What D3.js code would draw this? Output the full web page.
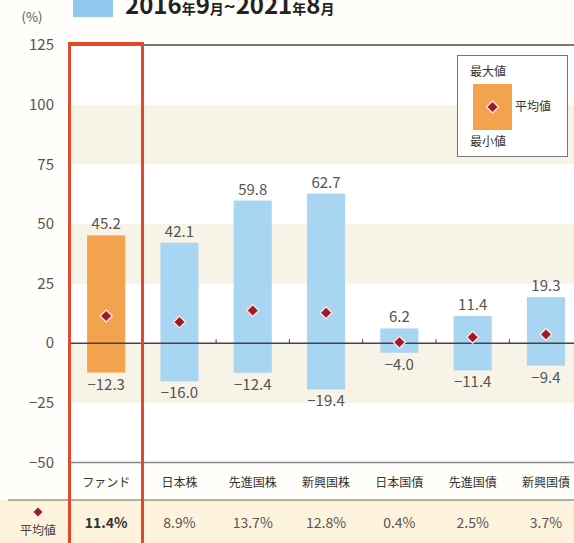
<!DOCTYPE html>
<html>
<head>
<meta charset="utf-8">
<script src="https://cdn.jsdelivr.net/npm/d3@7"></script>
<style>
  body { margin: 0; background: #fffefa; }
  svg { display: block; font-family: "Noto Sans CJK JP", "Noto Sans", sans-serif; }
</style>
</head>
<body>
<div class="chart"></div>
<script>
// data
const categories = ['ファンド', '日本株', '先進国株', '新興国株', '日本国債', '先進国債', '新興国債'];
const maxValues = [45.2, 42.1, 59.8, 62.7, 6.2, 11.4, 19.3];
const minValues = [-12.3, -16.0, -12.4, -19.4, -4.0, -11.4, -9.4];
const avgValues = [11.4, 8.9, 13.7, 12.8, 0.4, 2.5, 3.7];
const yTicks = [125, 100, 75, 50, 25, 0, -25, -50];

const data = categories.map((c, i) => ({
    name: c, max: maxValues[i], min: minValues[i], avg: avgValues[i]
}));

const fmtNum = v => (v < 0 ? '\u2212' + Math.abs(v).toFixed(1) : v.toFixed(1));

const width = 574, height = 543;
const svg = d3.select('.chart').append('svg')
    .attr('width', width).attr('height', height);

// scales
const xScale = d3.scaleBand().domain(categories)
    .range([69.5, 582.6]).paddingInner(0.48).paddingOuter(0.24);
const yScale = d3.scaleLinear([-50, 125], [462.5, 45]);

// background bands
const bands = d3.range(-50, 125, 25);
svg.append('g').selectAll('rect').data(bands).join('rect')
    .attr('x', 69).attr('width', width - 69)
    .attr('y', d => yScale(d + 25))
    .attr('height', d => yScale(d) - yScale(d + 25))
    .style('fill', d => ((d / 25) % 2 === 0 ? '#ffffff' : '#f7f3e6'));

// bottom row background
svg.append('rect').attr('x', 0).attr('y', 500).attr('width', width).attr('height', 43)
    .style('fill', '#fdf3dc');

// y axis labels
svg.append('g').selectAll('text').data(yTicks).join('text')
    .attr('x', 54).attr('y', d => yScale(d)).attr('dy', '0.35em')
    .attr('text-anchor', 'end').style('font-size', '15px').style('fill', '#555')
    .text(d => (d < 0 ? '\u2212' + Math.abs(d) : d));

svg.append('text').attr('x', 32).attr('y', 22).attr('text-anchor', 'middle')
    .style('font-size', '13px').style('fill', '#555').text('(%)');

// axis lines
svg.append('line').attr('x1', 69).attr('x2', width).attr('y1', yScale(125)).attr('y2', yScale(125))
    .style('stroke', '#777').style('stroke-width', 2);
svg.append('line').attr('x1', 69).attr('x2', width).attr('y1', yScale(-50)).attr('y2', yScale(-50))
    .style('stroke', '#888').style('stroke-width', 1.5);
svg.append('line').attr('x1', 8).attr('x2', width).attr('y1', 500).attr('y2', 500)
    .style('stroke', '#666').style('stroke-width', 1);

// bars
const bars = svg.append('g').attr('class', 'bars');
bars.selectAll('rect').data(data).join('rect')
    .attr('x', d => xScale(d.name)).attr('width', xScale.bandwidth())
    .attr('y', d => yScale(d.max)).attr('height', d => yScale(d.min) - yScale(d.max))
    .style('fill', (d, i) => (i === 0 ? '#f3a24e' : '#a8d5f2'));

// zero line + small ticks between categories
svg.append('line').attr('x1', 69).attr('x2', width).attr('y1', yScale(0)).attr('y2', yScale(0))
    .style('stroke', '#444').style('stroke-width', 1.5);
const step = xScale.step();
svg.append('g').selectAll('line').data(categories.slice(2)).join('line')
    .attr('x1', d => xScale(d) - step * 0.24).attr('x2', d => xScale(d) - step * 0.24)
    .attr('y1', yScale(0)).attr('y2', yScale(0) - 4)
    .style('stroke', '#444').style('stroke-width', 1);

// value labels
const cx = d => xScale(d.name) + xScale.bandwidth() / 2;
svg.append('g').selectAll('text').data(data).join('text')
    .attr('x', cx).attr('y', d => yScale(d.max) - 6)
    .attr('text-anchor', 'middle').style('font-size', '15px').style('fill', '#555')
    .text(d => fmtNum(d.max));
svg.append('g').selectAll('text').data(data).join('text')
    .attr('x', cx).attr('y', d => yScale(d.min) + 17)
    .attr('text-anchor', 'middle').style('font-size', '15px').style('fill', '#555')
    .text(d => fmtNum(d.min));

// average diamonds
const diamond = (x, y, r) => `M${x},${y - r}L${x + r},${y}L${x},${y + r}L${x - r},${y}Z`;
svg.append('g').selectAll('path').data(data).join('path')
    .attr('d', d => diamond(cx(d), yScale(d.avg), 6))
    .style('fill', '#9b1a2b').style('stroke', '#fbe3dc').style('stroke-width', 1.5);

// category labels
svg.append('g').selectAll('text').data(data).join('text')
    .attr('x', cx).attr('y', 483).attr('dy', '0.35em')
    .attr('text-anchor', 'middle').style('font-size', '12px').style('fill', '#333')
    .text(d => d.name);

// average row
svg.append('path').attr('d', diamond(38, 512, 4.5)).style('fill', '#9b1a2b');
svg.append('text').attr('x', 38).attr('y', 531).attr('dy', '0.35em').attr('text-anchor', 'middle')
    .style('font-size', '12px').style('fill', '#444').text('平均値');
svg.append('g').selectAll('text').data(data).join('text')
    .attr('x', cx).attr('y', 523).attr('dy', '0.35em')
    .attr('text-anchor', 'middle').style('font-size', '14px')
    .style('font-weight', (d, i) => (i === 0 ? 'bold' : 'normal'))
    .style('fill', (d, i) => (i === 0 ? '#333' : '#555'))
    .text(d => d.avg.toFixed(1) + '%');

// highlight box for fund
svg.append('rect').attr('x', 69.5).attr('y', 43.5).attr('width', 73).attr('height', 520)
    .style('fill', 'none').style('stroke', '#e2492c').style('stroke-width', 3);

// legend
const legend = svg.append('g').attr('class', 'legend');
legend.append('rect').attr('x', 457.5).attr('y', 55.5).attr('width', 110).attr('height', 101)
    .style('fill', '#fff').style('stroke', '#777').style('stroke-width', 1);
legend.append('rect').attr('x', 473).attr('y', 84).attr('width', 39).attr('height', 46)
    .style('fill', '#f3a24e');
legend.append('path').attr('d', diamond(492.5, 107, 6))
    .style('fill', '#9b1a2b').style('stroke', '#fbe3dc').style('stroke-width', 1.5);
legend.append('text').attr('x', 470).attr('y', 72).attr('dy', '0.35em')
    .style('font-size', '12px').style('fill', '#333').text('最大値');
legend.append('text').attr('x', 515).attr('y', 107).attr('dy', '0.35em')
    .style('font-size', '12px').style('fill', '#333').text('平均値');
legend.append('text').attr('x', 470).attr('y', 142).attr('dy', '0.35em')
    .style('font-size', '12px').style('fill', '#333').text('最小値');

// header (cut by top edge, as in the source)
svg.append('rect').attr('x', 73).attr('y', -8).attr('width', 40).attr('height', 25)
    .style('fill', '#8fcaee');
const header = svg.append('text').attr('x', 125).attr('y', 14)
    .style('font-weight', 'bold').style('fill', '#222');
const parts = [['2016', 24], ['年', 14], ['9', 24], ['月', 14], ['~', 20], ['2021', 24], ['年', 14], ['8', 24], ['月', 14]];
parts.forEach(p => header.append('tspan').style('font-size', p[1] + 'px').text(p[0]));
</script>
</body>
</html>
